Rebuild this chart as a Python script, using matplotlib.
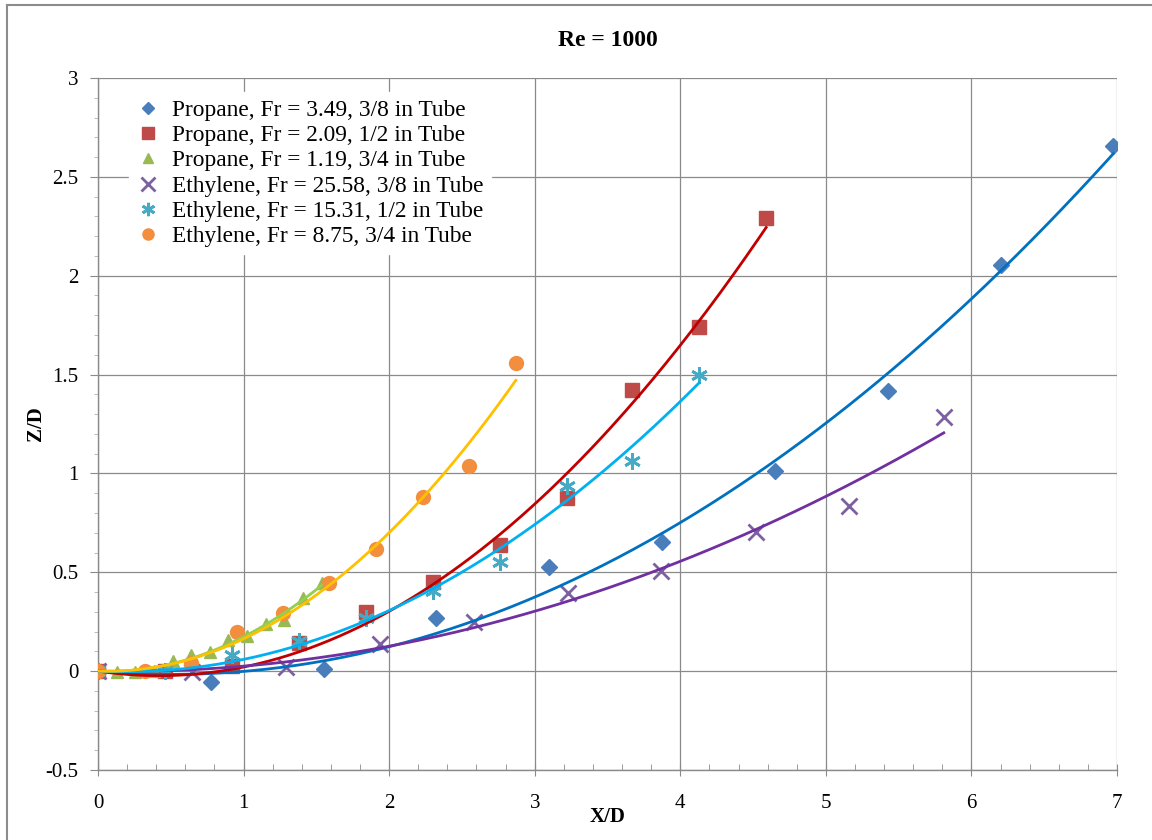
import numpy as np
import matplotlib
matplotlib.use("Agg")
import matplotlib.pyplot as plt
from matplotlib.lines import Line2D
from matplotlib.ticker import MultipleLocator, FuncFormatter

# ---- data ----
labels = [
    "Propane, Fr = 3.49, 3/8 in Tube",
    "Propane, Fr = 2.09, 1/2 in Tube",
    "Propane, Fr = 1.19, 3/4 in Tube",
    "Ethylene, Fr = 25.58, 3/8 in Tube",
    "Ethylene, Fr = 15.31, 1/2 in Tube",
    "Ethylene, Fr = 8.75, 3/4 in Tube",
]

x_p38 = [0, 0.775, 1.55, 2.325, 3.1, 3.875, 4.65, 5.425, 6.2, 6.975]
y_p38 = [0, -0.055, 0.01, 0.268, 0.526, 0.655, 1.01, 1.415, 2.054, 2.656]

x_p12 = [0, 0.46, 0.92, 1.38, 1.84, 2.30, 2.76, 3.22, 3.67, 4.13, 4.59]
y_p12 = [0, 0.0, 0.025, 0.14, 0.30, 0.45, 0.637, 0.877, 1.42, 1.74, 2.29]

x_p34 = [0, 0.128, 0.256, 0.384, 0.512, 0.64, 0.768, 0.896, 1.024, 1.152, 1.28, 1.408, 1.536]
y_p34 = [0, -0.005, -0.005, 0.0, 0.05, 0.08, 0.095, 0.157, 0.177, 0.238, 0.258, 0.369, 0.445]

x_e38 = [0, 0.645, 1.29, 1.94, 2.58, 3.23, 3.87, 4.52, 5.16, 5.81]
y_e38 = [0, -0.005, 0.02, 0.137, 0.248, 0.395, 0.508, 0.703, 0.835, 1.285]

x_e12 = [0, 0.46, 0.92, 1.38, 1.84, 2.30, 2.76, 3.22, 3.67, 4.13]
y_e12 = [0, 0.0, 0.08, 0.15, 0.27, 0.405, 0.55, 0.935, 1.065, 1.50]

x_e34 = [0, 0.32, 0.64, 0.955, 1.27, 1.59, 1.91, 2.23, 2.55, 2.87]
y_e34 = [0, 0.0, 0.04, 0.20, 0.295, 0.445, 0.62, 0.88, 1.037, 1.557]

xs = [x_p38, x_p12, x_p34, x_e38, x_e12, x_e34]
ys = [y_p38, y_p12, y_p34, y_e38, y_e12, y_e34]

marker_colors = ["#4A7EBB", "#BE4B48", "#98B954", "#7D60A0", "#46AAC5", "#F28E3E"]
markers = ["D", "s", "^", "x", (6, 2, 0), "o"]
msizes = [8, 10.5, 9, 12, 12, 10]
fit_colors = ["#0070C0", "#C00000", "#92D050", "#7030A0", "#00B0F0", "#FFC000"]

plt.rcParams['font.family'] = ['Liberation Serif', 'DejaVu Serif']

fig = plt.figure(figsize=(11.52, 8.4), dpi=100)
ax = fig.add_axes([98/1152, 1-770/840, (1117-98)/1152, (770-78)/840])

# outer border (top and left edges visible in the reference)
fig.lines.append(Line2D([7/1152, 7/1152], [0, 1-5/840], transform=fig.transFigure,
                        color="#8c8c8c", linewidth=1.5))
fig.lines.append(Line2D([7/1152, 1], [1-5/840, 1-5/840], transform=fig.transFigure,
                        color="#8c8c8c", linewidth=1.5))

for i in range(6):
    x = np.array(xs[i], dtype=float); y = np.array(ys[i], dtype=float)
    m = markers[i]
    if m == "x" or isinstance(m, tuple):
        ax.plot(x, y, linestyle="none", marker=m, markersize=msizes[i],
                markeredgecolor=marker_colors[i], markeredgewidth=2.0,
                color=marker_colors[i], label=labels[i], zorder=3)
    else:
        ax.plot(x, y, linestyle="none", marker=m, markersize=msizes[i],
                markerfacecolor=marker_colors[i], markeredgecolor=marker_colors[i],
                color=marker_colors[i], label=labels[i], zorder=3)
    # 2nd order polynomial trendline with zero intercept
    A = np.vstack([x**2, x]).T
    coef, *_ = np.linalg.lstsq(A, y, rcond=None)
    xf = np.linspace(0, x.max(), 200)
    ax.plot(xf, coef[0]*xf**2 + coef[1]*xf, color=fit_colors[i], linewidth=2.0, zorder=4)

ax.set_xlim(0, 7)
ax.set_ylim(-0.5, 3)
ax.xaxis.set_major_locator(MultipleLocator(1))
ax.xaxis.set_minor_locator(MultipleLocator(0.2))
ax.yaxis.set_major_locator(MultipleLocator(0.5))
ax.yaxis.set_minor_locator(MultipleLocator(0.1))
ax.yaxis.set_major_formatter(FuncFormatter(lambda v, p: ("%g" % v)))
ax.grid(True, which="major", color="#8a8a8a", linewidth=0.9)
ax.set_axisbelow(True)
for s in ["top", "right"]:
    ax.spines[s].set_visible(False)
for s in ["left", "bottom"]:
    ax.spines[s].set_color("#8a8a8a")
    ax.spines[s].set_linewidth(1.0)
ax.tick_params(axis="x", which="major", direction="inout", length=8, color="#8a8a8a",
               labelsize=15, pad=13)
ax.tick_params(axis="x", which="minor", direction="in", length=4, color="#8a8a8a")
ax.tick_params(axis="y", which="major", direction="out", length=6, color="#8a8a8a",
               labelsize=15, pad=8)
ax.tick_params(axis="y", which="minor", direction="out", length=3, color="#b0b0b0")

ax.set_title("Re = 1000", fontsize=17, fontweight="bold", pad=23)
ax.set_xlabel("X/D", fontsize=15, fontweight="bold", labelpad=-4)
ax.set_ylabel("Z/D", fontsize=15, fontweight="bold", labelpad=0)

leg = ax.legend(loc="upper left", bbox_to_anchor=(0.019, 0.996), frameon=True,
                fontsize=16.8, handlelength=1.0, handletextpad=0.55, labelspacing=0.17,
                borderpad=0.3, framealpha=1.0, edgecolor="white", fancybox=False,
                markerscale=0.8)

fig.savefig("out.png", dpi=100)
